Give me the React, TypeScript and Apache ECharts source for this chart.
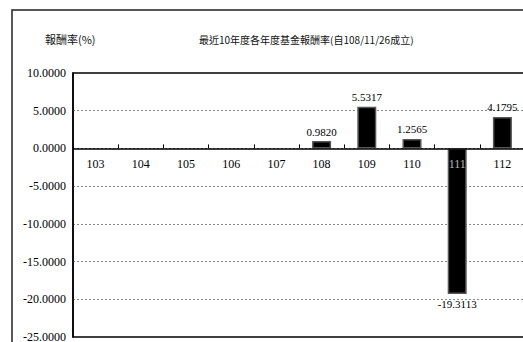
import React, { useEffect, useRef } from "react";
import * as echarts from "echarts";

// Fiscal years (ROC calendar) and annual fund returns in percent
const years = ["103", "104", "105", "106", "107", "108", "109", "110", "111", "112"];
const returns: (number | null)[] = [null, null, null, null, null, 0.982, 5.5317, 1.2565, -19.3113, 4.1795];
const yTicks = { min: -25, max: 10, interval: 5 };
const yName = "報酬率(%)";
const titleText = "最近10年度各年度基金報酬率(自108/11/26成立)";

const serif = "Liberation Serif";
const cjk = "Noto Sans CJK TC";

const GRID_TOP = 73;
const GRID_H = 264;

export default function App() {
  const ref = useRef<HTMLDivElement>(null);

  useEffect(() => {
    document.body.style.margin = "0";
    const chart = echarts.init(ref.current!, null, { renderer: "svg" });
    // distance of the zero line above the plot bottom, so the category axis sits on it
    const zeroLift = (GRID_H * (0 - yTicks.min)) / (yTicks.max - yTicks.min);
    chart.setOption({
      animation: false,
      backgroundColor: "#fff",
      graphic: [
        {
          type: "rect",
          shape: { x: 12, y: 10, width: 530, height: 350 },
          style: { fill: "none", stroke: "#222", lineWidth: 1.5 },
          silent: true,
        },
        {
          type: "text",
          x: 45,
          y: 39,
          style: { text: yName, fontFamily: cjk, fontSize: 11, fill: "#111", verticalAlign: "middle" },
        },
        {
          type: "text",
          x: 199,
          y: 39,
          style: { text: titleText, fontFamily: cjk, fontSize: 10, fill: "#111", verticalAlign: "middle" },
        },
      ],
      grid: {
        left: 73,
        top: GRID_TOP,
        width: 452,
        height: GRID_H,
        outerBoundsMode: "none",
        containLabel: false,
        show: true,
        borderColor: "#000",
        borderWidth: 1.5,
        backgroundColor: "transparent",
      },
      xAxis: {
        type: "category",
        data: years,
        z: 5,
        offset: -zeroLift,
        axisLine: { onZero: false, lineStyle: { color: "#000", width: 1.5 } },
        axisTick: { show: true, inside: true, length: 4, lineStyle: { color: "#000" } },
        axisLabel: {
          fontFamily: serif,
          fontSize: 12,
          margin: 10,
          color: (_v: string, i: number) => ((returns[i] ?? 0) < -10 ? "#bbb" : "#000"),
        },
        splitLine: { show: false },
      },
      yAxis: {
        type: "value",
        min: yTicks.min,
        max: yTicks.max,
        interval: yTicks.interval,
        axisLine: { show: true, lineStyle: { color: "#000", width: 1.5 } },
        axisTick: { show: false },
        axisLabel: {
          fontFamily: serif,
          fontSize: 12,
          color: "#000",
          margin: 7,
          formatter: (v: number) => v.toFixed(4),
        },
        splitLine: {
          show: true,
          lineStyle: { color: "#888", type: [2, 2], width: 1 },
          showMinLine: false,
          showMaxLine: false,
        },
      },
      series: [
        {
          type: "bar",
          data: returns.map((v) =>
            v === null
              ? null
              : { value: v, label: { position: v < 0 ? "bottom" : "top" } }
          ),
          barWidth: 19,
          itemStyle: { color: "#000", borderColor: "#555", borderWidth: 1.5 },
          label: {
            show: true,
            distance: 4,
            fontFamily: serif,
            fontSize: 11,
            color: "#000",
            formatter: (p: any) => Number(p.value).toFixed(4),
          },
        },
      ],
    });
    return () => chart.dispose();
  }, []);

  return <div ref={ref} style={{ width: 523, height: 342 }} />;
}
